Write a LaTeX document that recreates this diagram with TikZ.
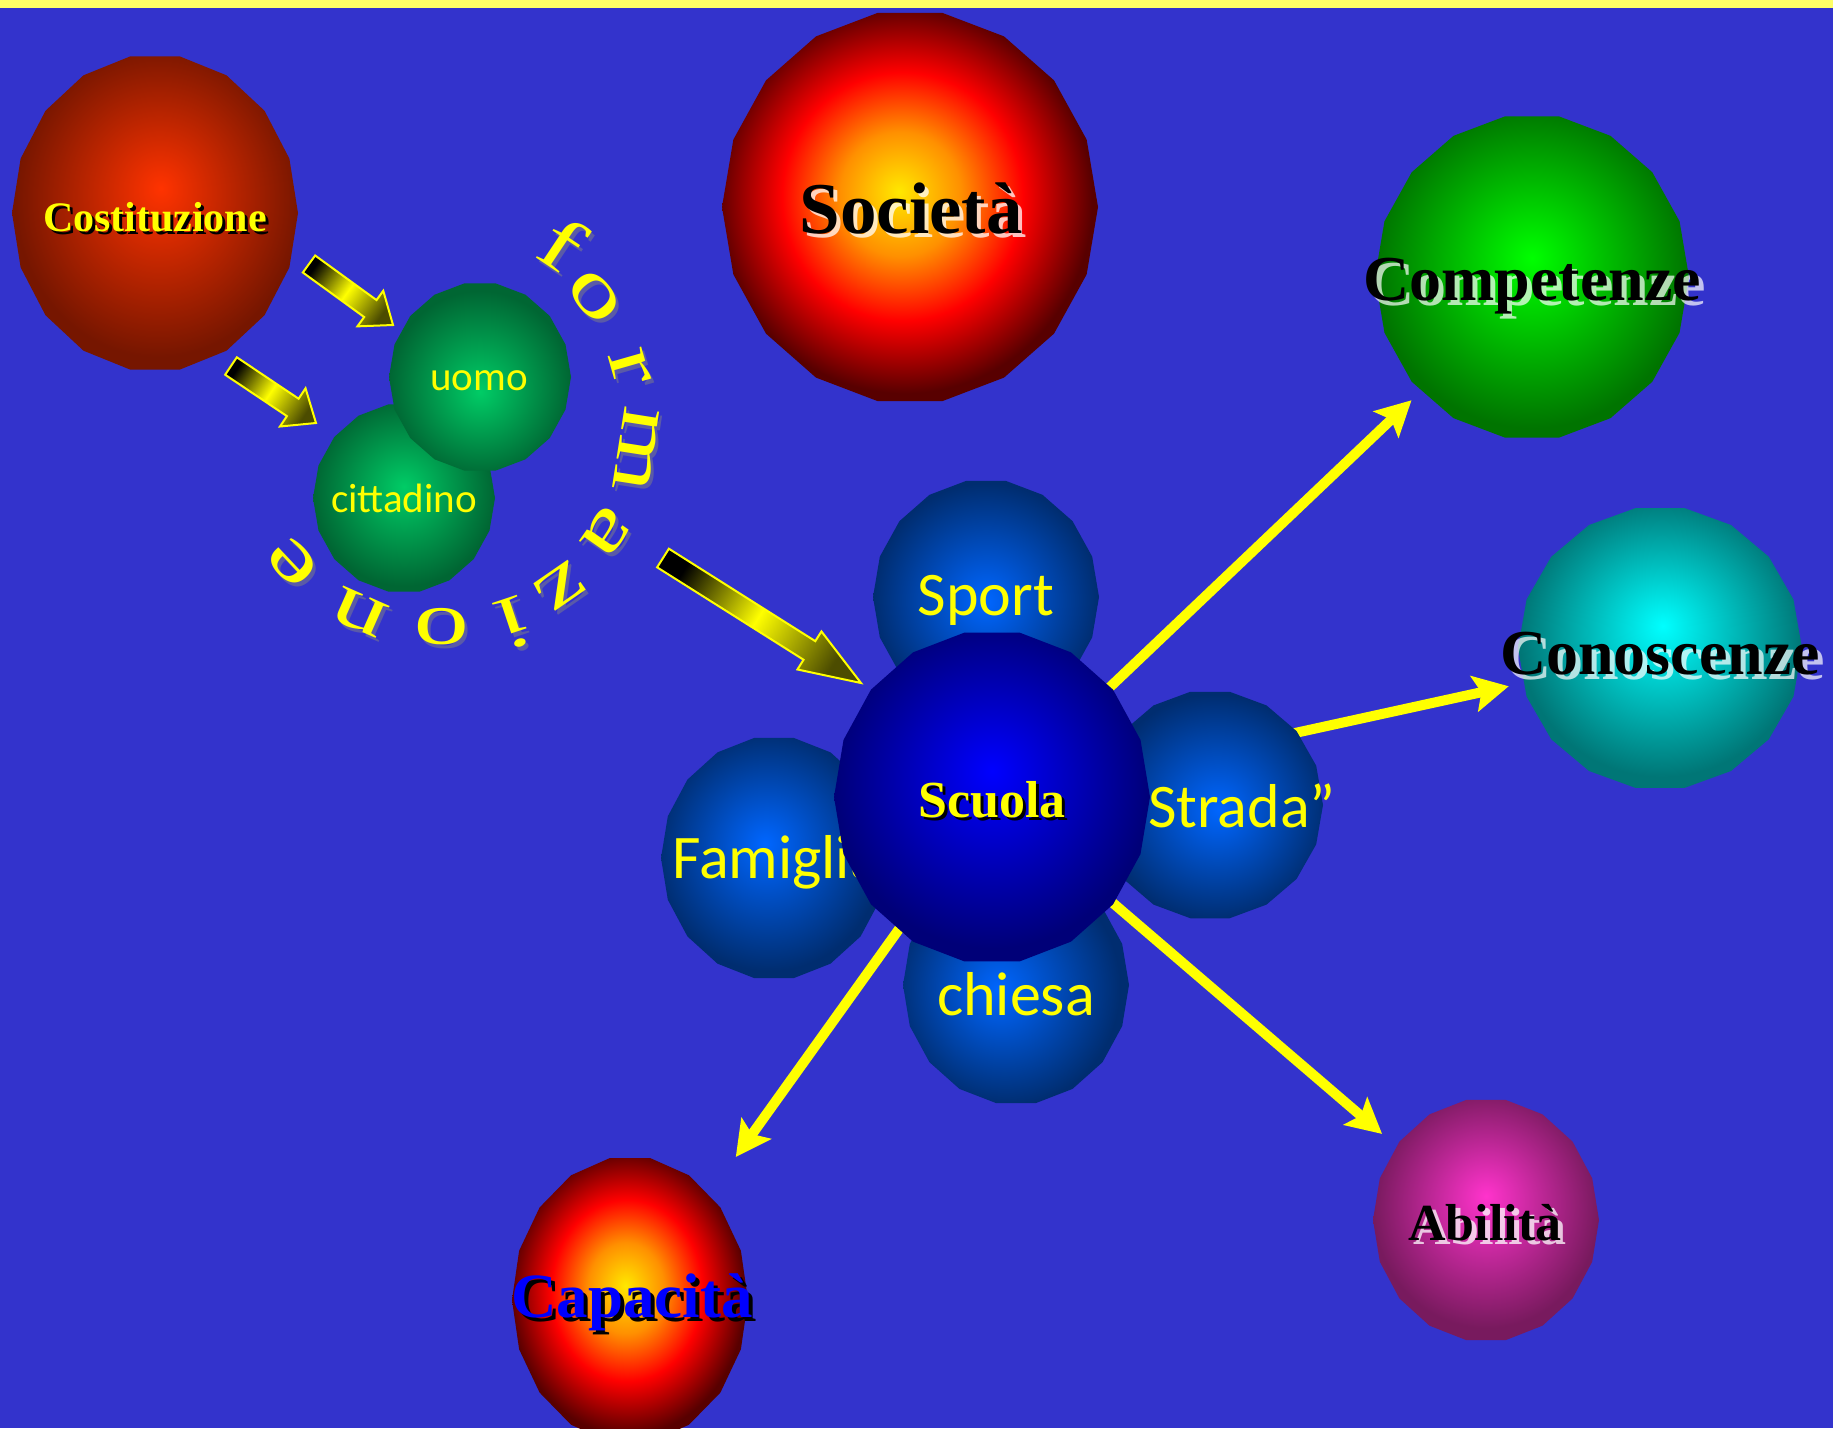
\documentclass[tikz,border=0pt]{standalone}
\usepackage{fontspec}
\setmainfont{Liberation Serif}
\newfontfamily\calib{Carlito}
\usetikzlibrary{calc,arrows.meta}

\definecolor{bgblue}{HTML}{3333CC}
\definecolor{topstrip}{HTML}{FFFF66}
\definecolor{ylw}{HTML}{FFFF00}
\definecolor{costA}{HTML}{FF3300}
\definecolor{costB}{HTML}{761600}
\definecolor{socA}{HTML}{FFE800}
\definecolor{socB}{HTML}{FF9000}
\definecolor{socC}{HTML}{FF0000}
\definecolor{socD}{HTML}{580000}
\definecolor{compA}{HTML}{00FF00}
\definecolor{compB}{HTML}{007400}
\definecolor{conA}{HTML}{00FFFF}
\definecolor{conB}{HTML}{007676}
\definecolor{abA}{HTML}{FF33CC}
\definecolor{abB}{HTML}{781A5E}
\definecolor{grA}{HTML}{00CC66}
\definecolor{grB}{HTML}{006633}
\definecolor{blA}{HTML}{0066FF}
\definecolor{blB}{HTML}{002D70}
\definecolor{scA}{HTML}{0000FF}
\definecolor{scB}{HTML}{000078}
\definecolor{fzshadow}{HTML}{5A5AA8}
\definecolor{capblue}{HTML}{0000FF}

\newcommand{\twoball}[5]{\pgfdeclareradialshading{#1}{\pgfpoint{#2bp}{#3bp}}{color(0bp)=(#4); color(25bp)=(#5); color(50bp)=(#5)}}
\twoball{costball}{1}{4}{costA}{costB}
\twoball{compball}{0}{3}{compA}{compB}
\twoball{conball}{0.5}{4}{conA}{conB}
\twoball{abball}{0}{5}{abA}{abB}
\twoball{uomoball}{0}{-4}{grA}{grB}
\twoball{citball}{0}{3}{grA}{grB}
\twoball{sportball}{0}{-1}{blA}{blB}
\twoball{famball}{-2}{3}{blA}{blB}
\twoball{stradaball}{2}{-1}{blA}{blB}
\twoball{chiesaball}{-4}{-1}{blA}{blB}
\twoball{scuolaball}{0}{4}{scA}{scB}
\pgfdeclareradialshading{socball}{\pgfpoint{-1.5bp}{2bp}}{color(0bp)=(socA); color(8bp)=(socB); color(16bp)=(socC); color(25bp)=(socD); color(50bp)=(socD)}
\pgfdeclareradialshading{capball}{\pgfpoint{-1bp}{2.5bp}}{color(0bp)=(socA); color(8bp)=(socB); color(16bp)=(socC); color(25bp)=(socD); color(50bp)=(socD)}

\newcommand{\ball}[5]{\shade[shading=#5] plot[domain=0:360,samples=19,variable=\t] ({#1+#3*cos(\t)},{#2+#4*sin(\t)}) -- cycle;}

\pgfdeclarelayer{bg}
\pgfdeclarelayer{lines}
\pgfsetlayers{bg,lines,main}

\tikzset{
 tb/.style={font=\bfseries\fontsize{#1}{#1}\selectfont, inner sep=0pt, anchor=base},
 cb/.style={font=\calib\fontsize{#1}{#1}\selectfont, inner sep=0pt, anchor=base, text=ylw},
 fz/.style={font=\fontsize{76}{76}\selectfont, inner sep=0pt},
 thinarr/.style={draw=ylw, line width=10pt, -{Stealth[length=35pt,width=36pt,inset=7pt]}},
 bigarr/.style={draw=ylw, line width=2pt, top color=black, bottom color=ylw!30!black, middle color=ylw},
}

\begin{document}
\begin{tikzpicture}[x=1pt,y=-1pt]
\useasboundingbox (0,0) rectangle (1833,1428);
\begin{pgfonlayer}{bg}
\fill[bgblue] (0,0) rectangle (1833,1428);
\fill[topstrip] (0,0) rectangle (1833,8);
\end{pgfonlayer}

% Costituzione
\ball{155}{213}{143}{159}{costball}
\node[tb=42, text=black] (costsh) at (158,234) {Costituzione};
\node[tb=42, text=ylw] (cost) at (155,231) {Costituzione};

% cittadino and uomo
\ball{404}{498}{91}{95}{citball}
\node[cb=41] (citt) at (404,512) {cittadino};
\ball{480}{377}{91}{95}{uomoball}
\node[cb=41] (uomo) at (479,390) {uomo};

% Societa
\ball{910}{207}{188}{197}{socball}
\node[tb=73, text=white, opacity=0.75] (socsh) at (915,237) {Società};
\node[tb=73, text=black] (soc) at (911,233) {Società};

% Competenze
\ball{1532}{277}{157}{163}{compball}
\node[tb=64, text=white, opacity=0.7] (compsh) at (1537,305) {Competenze};
\node[tb=64, text=black] (comp) at (1532,300) {Competenze};

% Conoscenze
\ball{1660}{648}{142}{142}{conball}
\node[tb=64, text=white, opacity=0.7] (conoscsh) at (1665,679) {Conoscenze};
\node[tb=64, text=black] (conosc) at (1660,674) {Conoscenze};

% satellite spheres
\ball{986}{597}{113}{118}{sportball}
\node[cb=62] (sport) at (986,615) {Sport};
\ball{774}{858}{113}{122}{famball}
\node[cb=62, anchor=base west] (fam) at (672,878) {Famiglia};
\ball{1210}{805}{113}{115}{stradaball}
\node[cb=62, anchor=base west] (strada) at (1148,827) {Strada”};
\ball{1016}{985}{113}{120}{chiesaball}
\node[cb=62] (chiesa) at (1016,1015) {chiesa};

% Scuola
\ball{992}{797}{158}{167}{scuolaball}
\node[tb=52, text=black] (scuolash) at (995,820) {Scuola};
\node[tb=52, text=ylw] (scuola) at (992,817) {Scuola};

% Abilita
\ball{1486}{1220}{113}{122}{abball}
\node[tb=52, text=white, opacity=0.75] (abilsh) at (1490,1244) {Abilità};
\node[tb=52, text=black] (abil) at (1485,1240) {Abilità};

% Capacita
\ball{630}{1300}{118}{144}{capball}
\node[tb=63, text=black] (capacsh) at (636,1321) {Capacità};
\node[tb=63, text=capblue] (capac) at (632,1317) {Capacità};

% block arrows
\coordinate (a1t) at (309,264); \coordinate (a1p) at (393,325);
\coordinate (a1h) at ($(a1p)!28pt!(a1t)$);
\shade[bigarr, shading angle=54] ($(a1t)!10.5pt!90:(a1p)$) -- ($(a1h)!10.5pt!90:(a1p)$) -- ($(a1h)!22pt!90:(a1p)$) -- (a1p) -- ($(a1h)!22pt!-90:(a1p)$) -- ($(a1h)!10.5pt!-90:(a1p)$) -- ($(a1t)!10.5pt!-90:(a1p)$) -- cycle;

\coordinate (a2t) at (231,366); \coordinate (a2p) at (316,423);
\coordinate (a2h) at ($(a2p)!28pt!(a2t)$);
\shade[bigarr, shading angle=56] ($(a2t)!10.5pt!90:(a2p)$) -- ($(a2h)!10.5pt!90:(a2p)$) -- ($(a2h)!23pt!90:(a2p)$) -- (a2p) -- ($(a2h)!23pt!-90:(a2p)$) -- ($(a2h)!10.5pt!-90:(a2p)$) -- ($(a2t)!10.5pt!-90:(a2p)$) -- cycle;

\coordinate (a3t) at (663,558); \coordinate (a3p) at (861,683);
\coordinate (a3h) at ($(a3p)!61pt!(a3t)$);
\shade[bigarr, shading angle=58] ($(a3t)!11pt!90:(a3p)$) -- ($(a3h)!11pt!90:(a3p)$) -- ($(a3h)!22.5pt!90:(a3p)$) -- (a3p) -- ($(a3h)!22.5pt!-90:(a3p)$) -- ($(a3h)!11pt!-90:(a3p)$) -- ($(a3t)!11pt!-90:(a3p)$) -- cycle;

% formazione along an arc
\foreach \ch/\x/\y/\r [count=\i] in {f/563/243/-33.7, o/595/297/-50.6, r/630/367/-74, m/637/450/-98.9, a/607/533/-124.9, z/560/587/-145.4, i/513/623/-161.5, o/442/627/-180.8, n/360/613/-203.8, e/293/563/-226.7}{
  \node[fz, rotate=\r, text=fzshadow] (fzs\i) at ({\x+3},{\y+4}) {\scalebox{1.45}[1]{\ch}};
  \node[fz, rotate=\r, text=ylw] (fz\i) at (\x,\y) {\scalebox{1.45}[1]{\ch}};
}

% thin arrows from Scuola, behind the spheres
\begin{pgfonlayer}{lines}
\draw[thinarr] (scuola.center) -- ($(scuola.center)!579pt!(comp.center)$);
\draw[thinarr] (scuola.center) -- ($(scuola.center)!529pt!(conosc.center)$);
\draw[thinarr] (scuola.center) -- ($(scuola.center)!514pt!(abil.center)$);
\draw[thinarr] (scuola.center) -- ($(scuola.center)!440pt!(capac.center)$);
\end{pgfonlayer}
\end{tikzpicture}
\end{document}
